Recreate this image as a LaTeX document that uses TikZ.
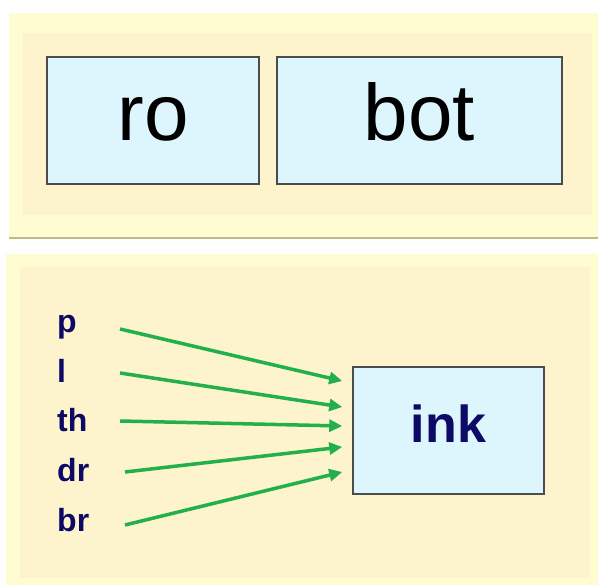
\documentclass[tikz,border=0pt]{standalone}
\usepackage{fontspec}
\setmainfont{Liberation Sans}
\usetikzlibrary{arrows.meta}

\definecolor{paleyellow}{RGB}{255,252,210}
\definecolor{cream}{RGB}{253,243,205}
\definecolor{skyfill}{RGB}{221,245,253}
\definecolor{navy}{RGB}{12,10,100}
\definecolor{leafgreen}{RGB}{34,176,76}

\tikzset{
  part/.style={draw=black!70, line width=1.5pt, fill=skyfill, inner sep=0pt,
    minimum height=127pt},
  onset/.style={anchor=base west, inner sep=0pt, text=navy,
    font=\fontsize{32}{32}\selectfont\bfseries},
  feed/.style={leafgreen, line width=3.5pt,
    -{Triangle[length=13pt,width=12pt]}}
}

\begin{document}
\begin{tikzpicture}[x=1pt,y=-1pt]
  \useasboundingbox (0,0) rectangle (598,585);
  % panels
  \fill[paleyellow] (9,13) rectangle (598,238);
  \fill[cream] (23,33) rectangle (592,215);
  \draw[black!20!paleyellow!80!olive, line width=1.5pt] (9,238) -- (598,238);
  \fill[paleyellow] (6,254) rectangle (598,585);
  \fill[cream] (20,267) rectangle (590,578);
  % top: split word
  \node[part, minimum width=212pt, text height=41pt, text depth=0pt,
    font=\fontsize{80}{80}\selectfont] (ro) at (153,120.5) {ro};
  \node[part, minimum width=285pt, text height=41pt, text depth=0pt,
    font=\fontsize{80}{80}\selectfont] (bot) at (419.5,120.5) {bot};
  % bottom: onsets and rime
  \node[part, minimum width=191pt, text height=25pt, text depth=0pt,
    text=navy, font=\fontsize{52}{52}\selectfont\bfseries]
    (ink) at (448.5,430.5) {ink};
  \node[onset] (p) at (57,333) {p};
  \node[onset] (l) at (57,382.5) {l};
  \node[onset] (th) at (57,432) {th};
  \node[onset] (dr) at (57,482) {dr};
  \node[onset] (br) at (57,532) {br};
  \coordinate (p-tail) at (120,329);
  \coordinate (l-tail) at (120,373);
  \coordinate (th-tail) at (120,421);
  \coordinate (dr-tail) at (125,472);
  \coordinate (br-tail) at (125,525);
  \draw[feed] (p-tail) -- ([xshift=-10pt,yshift=49.5pt]ink.west);
  \draw[feed] (l-tail) -- ([xshift=-10pt,yshift=23.5pt]ink.west);
  \draw[feed] (th-tail) -- ([xshift=-10pt,yshift=4.5pt]ink.west);
  \draw[feed] (dr-tail) -- ([xshift=-10pt,yshift=-16.5pt]ink.west);
  \draw[feed] (br-tail) -- ([xshift=-10pt,yshift=-41.5pt]ink.west);
\end{tikzpicture}
\end{document}
